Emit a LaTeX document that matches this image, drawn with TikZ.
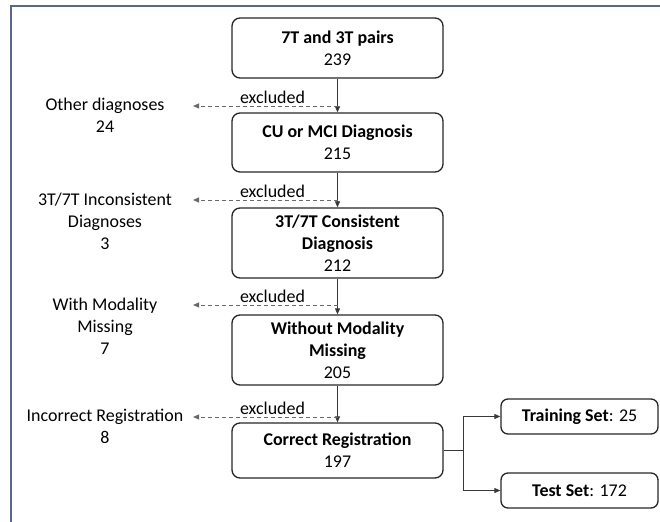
\documentclass[tikz,border=0pt]{standalone}
\usepackage{fontspec}
\setmainfont{Carlito}
\usepackage{tikz}
\usetikzlibrary{positioning,arrows.meta}
\tikzstyle{flowchart} = [x = 1bp, y = -1bp, every node/.style={font=\fontsize{18}{22}\selectfont}]
\definecolor{frameColor}{RGB}{88,104,134}
\definecolor{lineColor}{RGB}{55,55,55}
\definecolor{dashColor}{RGB}{105,105,105}
\tikzstyle{stageBox} = [draw=black!85, line width=1.3bp, rounded corners=8bp, minimum width=211bp, align=center, inner sep=0pt]
\tikzstyle{setBox} = [draw=black!85, line width=1.3bp, rounded corners=7bp, minimum width=157bp, minimum height=35bp, inner sep=0pt]
\tikzstyle{flowArrow} = [draw=lineColor, line width=0.8bp, -{Triangle[length=6bp,width=5bp]}]
\tikzstyle{excludedArrow} = [flowArrow, draw=dashColor, dash pattern=on 4bp off 3bp]
\tikzstyle{excludedText} = [above, inner sep=2bp, pos=.45]
\tikzstyle{leftLabel} = [align=center, inner sep=0pt]
\tikzstyle{frameLine} = [draw=frameColor, line width=2bp]
\newcommand{\excludedStep}[2]{
  \coordinate (#1Split) at (337.5, #2);
  \coordinate (#1Tip) at (193, #2);
  \draw [excludedArrow] (#1Split) -- node [excludedText] {excluded} (#1Tip);
}

\begin{document}
\begin{tikzpicture}[flowchart]
      \useasboundingbox (0,0) rectangle (660,522);
      \draw [frameLine] (11,522) -- (11,6.5) -- (660,6.5);

      \node [stageBox, minimum height=60bp] (pairs) at (337.5,48) {\textbf{7T and 3T pairs}\\239};
      \node [stageBox, minimum height=59bp] (cuMci) at (337.5,142.5) {\textbf{CU or MCI Diagnosis}\\215};
      \node [stageBox, minimum height=70bp] (consistent) at (337.5,243) {\textbf{3T/7T Consistent}\\\textbf{Diagnosis}\\212};
      \node [stageBox, minimum height=70bp] (withoutMissing) at (337.5,350) {\textbf{Without Modality}\\\textbf{Missing}\\205};
      \node [stageBox, minimum height=55bp] (correctReg) at (337.5,450.5) {\textbf{Correct Registration}\\197};

      \node [leftLabel] (otherDiag) at (105,115.5) {Other diagnoses\\24};
      \node [leftLabel] (inconsistent) at (105,221) {3T/7T Inconsistent\\Diagnoses\\3};
      \node [leftLabel] (withMissing) at (105,326.5) {With Modality\\Missing\\7};
      \node [leftLabel] (incorrectReg) at (105,426.5) {Incorrect Registration\\8};

      \node [setBox] (trainSet) at (579.5,416.5) {\textbf{Training Set}: 25};
      \node [setBox] (testSet) at (579.5,490.5) {\textbf{Test Set}: 172};

      \draw [flowArrow] (pairs) -- (cuMci);
      \draw [flowArrow] (cuMci) -- (consistent);
      \draw [flowArrow] (consistent) -- (withoutMissing);
      \draw [flowArrow] (withoutMissing) -- (correctReg);

      \excludedStep{other}{106}
      \excludedStep{inconsistent}{200}
      \excludedStep{missing}{305}
      \excludedStep{incorrect}{417}

      \coordinate (branch) at (463,450.5);
      \draw [draw=lineColor, line width=0.8bp] (correctReg.east) -- (branch);
      \draw [flowArrow] (branch) |- (trainSet.west);
      \draw [flowArrow] (branch) |- (testSet.west);
    \end{tikzpicture}
\end{document}
